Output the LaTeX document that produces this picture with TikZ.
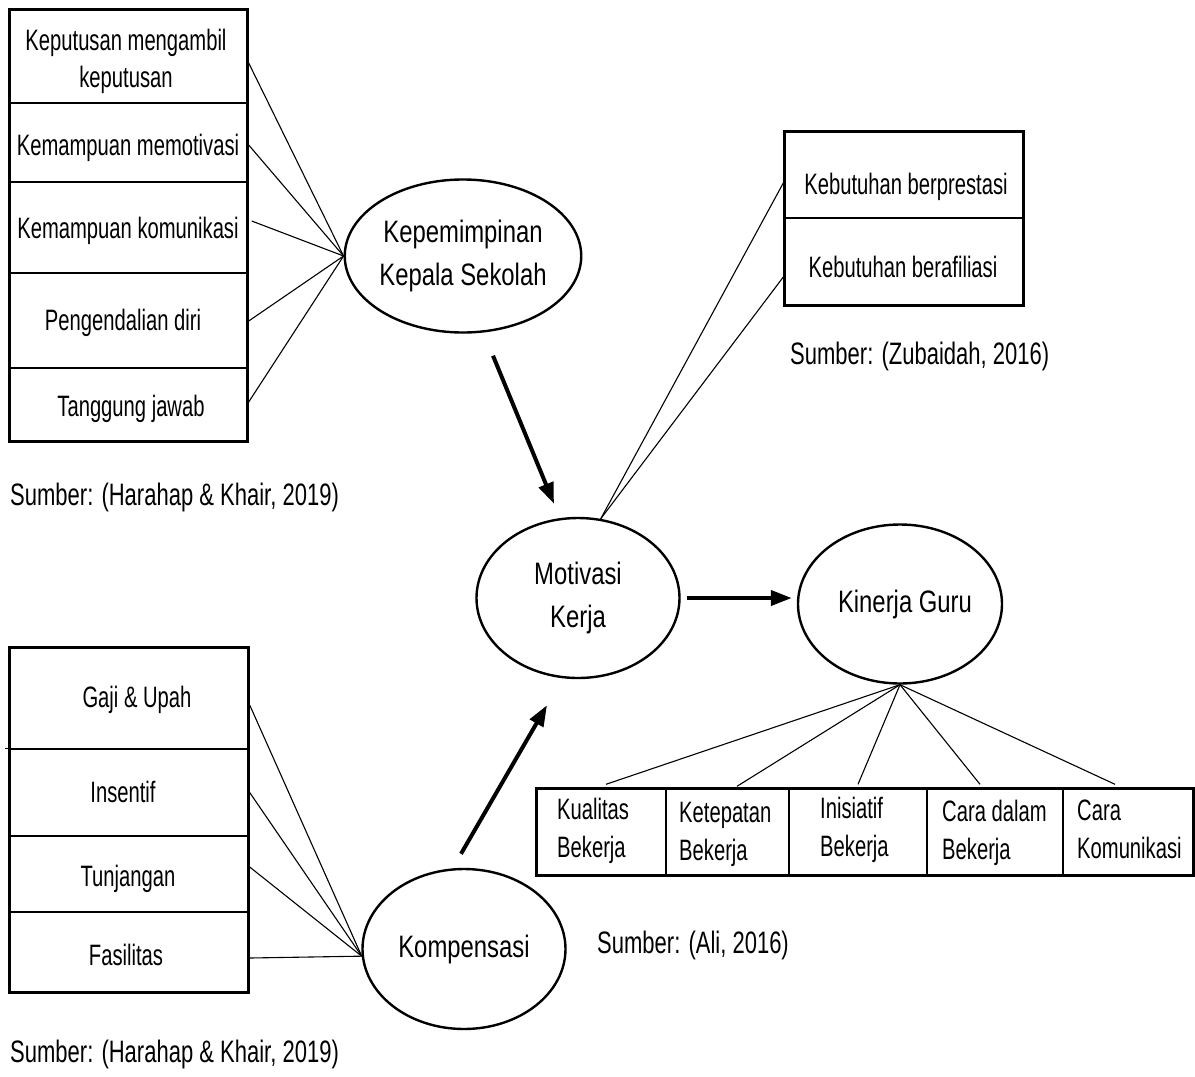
\documentclass[tikz,border=0pt]{standalone}
\usepackage{fontspec}
\setmainfont[FakeStretch=0.69]{Liberation Sans}
\newfontfamily\boxfont[FakeStretch=0.685]{Liberation Sans}
\newfontfamily\ellfont[FakeStretch=0.77]{Liberation Sans}
\newfontfamily\srcfont[FakeStretch=0.71]{Liberation Sans}
\usetikzlibrary{shapes.geometric,arrows.meta,calc}
\begin{document}
\begin{tikzpicture}[x=1pt,y=-1pt,
  cellbox/.style={draw,line width=1.4pt,rectangle,inner sep=0pt},
  frame/.style={draw,line width=3pt},
  btxt/.style={inner sep=0pt,align=center,font=\boxfont\fontsize{29.5}{37}\selectfont},
  ltxt/.style={inner sep=0pt,align=left,anchor=north west,font=\boxfont\fontsize{29.5}{38}\selectfont},
  srctxt/.style={inner sep=0pt,anchor=base west,font=\srcfont\fontsize{31}{36}\selectfont},
  ell/.style={draw,ellipse,line width=2.4pt,inner sep=0pt,align=center,font=\ellfont\fontsize{31}{43}\selectfont},
  con/.style={line width=1.1pt},
  arr/.style={line width=4pt,-{Triangle[length=21pt,width=15pt]}}
]
\useasboundingbox (0,0) rectangle (1195,1077);

% ---------- top-left box ----------
\node[cellbox,minimum width=237pt,minimum height=93pt] (c1) at (128.5,56.5) {};
\node[cellbox,minimum width=237pt,minimum height=79pt] (c2) at (128.5,142.5) {};
\node[cellbox,minimum width=237pt,minimum height=91pt] (c3) at (128.5,227.5) {};
\node[cellbox,minimum width=237pt,minimum height=95pt] (c4) at (128.5,320.5) {};
\node[cellbox,minimum width=237pt,minimum height=73pt] (c5) at (128.5,404.5) {};
\draw[frame] (c1.north west) rectangle (c5.south east);
\node[btxt] (tc1) at (126,61) {Keputusan mengambil\\keputusan};
\node[btxt,anchor=base] (tc2) at (128,155) {Kemampuan memotivasi};
\node[btxt,anchor=base] (tc3) at (128,238) {Kemampuan komunikasi};
\node[btxt,anchor=base] (tc4) at (123,330) {Pengendalian diri};
\node[btxt,anchor=base] (tc5) at (131,416) {Tanggung jawab};
\node[srctxt] (s1) at (10,505) {Sumber: (Harahap \& Khair, 2019)};

% ---------- top-right box ----------
\node[cellbox,minimum width=238pt,minimum height=86pt] (d1) at (904,175) {};
\node[cellbox,minimum width=238pt,minimum height=87pt] (d2) at (904,261.5) {};
\draw[frame] (d1.north west) rectangle (d2.south east);
\node[btxt,anchor=base] (td1) at (906,194) {Kebutuhan berprestasi};
\node[btxt,anchor=base] (td2) at (903,277) {Kebutuhan berafiliasi};
\node[srctxt] (s2) at (790,364) {Sumber: (Zubaidah, 2016)};

% ---------- bottom-left box ----------
\node[cellbox,minimum width=238pt,minimum height=101pt] (e1) at (129,698.5) {};
\node[cellbox,minimum width=238pt,minimum height=87pt] (e2) at (129,792.5) {};
\node[cellbox,minimum width=238pt,minimum height=76pt] (e3) at (129,874) {};
\node[cellbox,minimum width=238pt,minimum height=80pt] (e4) at (129,952) {};
\draw[frame] (e1.north west) rectangle (e4.south east);
\draw[line width=1.4pt] (e2.north west) -- +(-4,0);
\node[btxt,anchor=base] (te1) at (137,707) {Gaji \& Upah};
\node[btxt,anchor=base] (te2) at (123,802) {Insentif};
\node[btxt,anchor=base] (te3) at (128,886) {Tunjangan};
\node[btxt,anchor=base] (te4) at (126,965) {Fasilitas};
\node[srctxt] (s3) at (10,1062) {Sumber: (Harahap \& Khair, 2019)};

% ---------- table bottom-right ----------
\node[cellbox,minimum width=129pt,minimum height=86pt] (g1) at (601.5,832) {};
\node[cellbox,minimum width=123pt,minimum height=86pt] (g2) at (727.5,832) {};
\node[cellbox,minimum width=138pt,minimum height=86pt] (g3) at (858,832) {};
\node[cellbox,minimum width=136pt,minimum height=86pt] (g4) at (995,832) {};
\node[cellbox,minimum width=130pt,minimum height=86pt] (g5) at (1128,832) {};
\draw[frame] (g1.north west) rectangle (g5.south east);
\node[ltxt] (tg1) at (557,798) {Kualitas\\Bekerja};
\node[ltxt] (tg2) at (679,802) {Ketepatan\\Bekerja};
\node[ltxt] (tg3) at (820,797) {Inisiatif\\Bekerja};
\node[ltxt] (tg4) at (942,800) {Cara dalam\\Bekerja};
\node[ltxt] (tg5) at (1077,800) {Cara\\Komunikasi};
\node[srctxt] (s4) at (597,953) {Sumber: (Ali, 2016)};

% ---------- ellipses ----------
\node[ell,minimum width=203pt,minimum height=153pt] (kep) at (463,256) {Kepemimpinan\\Kepala Sekolah};
\node[ell,minimum width=203pt,minimum height=160pt] (mot) at (578,598) {Motivasi\\Kerja};
\node[ell,minimum width=204pt,minimum height=159pt] (kin) at (900,604) {\hspace*{10pt}Kinerja Guru};
\node[ell,minimum width=203pt,minimum height=160pt] (kom) at (464,949) {Kompensasi};

% ---------- indicator lines ----------
\draw[con] ([shift={(1,6.5)}]c1.east) -- (kep.west);
\draw[con] ([shift={(1,2.5)}]c2.east) -- (kep.west);
\draw[con] ([shift={(4,-6.5)}]c3.east) -- (kep.west);
\draw[con] ([shift={(1,0.5)}]c4.east) -- (kep.west);
\draw[con] ([shift={(1,-2.5)}]c5.east) -- (kep.west);

\draw[con] ([shift={(-1,8)}]d1.west) -- (mot.74);
\draw[con] ([shift={(-1,15.5)}]d2.west) -- (mot.74);

\draw[con] ([shift={(1,6.5)}]e1.east) -- (kom.184);
\draw[con] ([shift={(1,0)}]e2.east) -- (kom.184);
\draw[con] ([shift={(1,-7)}]e3.east) -- (kom.184);
\draw[con] ([shift={(1,6)}]e4.east) -- (kom.184);

\draw[con] (kin.south) -- ([shift={(4.5,-4)}]g1.north);
\draw[con] (kin.south) -- ([shift={(9.5,-2)}]g2.north);
\draw[con] (kin.south) -- ([shift={(0,-4)}]g3.north);
\draw[con] (kin.south) -- ([shift={(-15,-4)}]g4.north);
\draw[con] (kin.south) -- ([shift={(-13,-4)}]g5.north);

% ---------- causal arrows ----------
\draw[arr] ([shift={(30,22)}]kep.south) -- ([shift={(-24,-13)}]mot.north);
\draw[arr] ([shift={(6,0)}]mot.east) -- ([shift={(-5,-6)}]kin.west);
\draw[arr] ([shift={(-3,-14)}]kom.north) -- ([shift={(-31,26)}]mot.south);
\end{tikzpicture}
\end{document}
